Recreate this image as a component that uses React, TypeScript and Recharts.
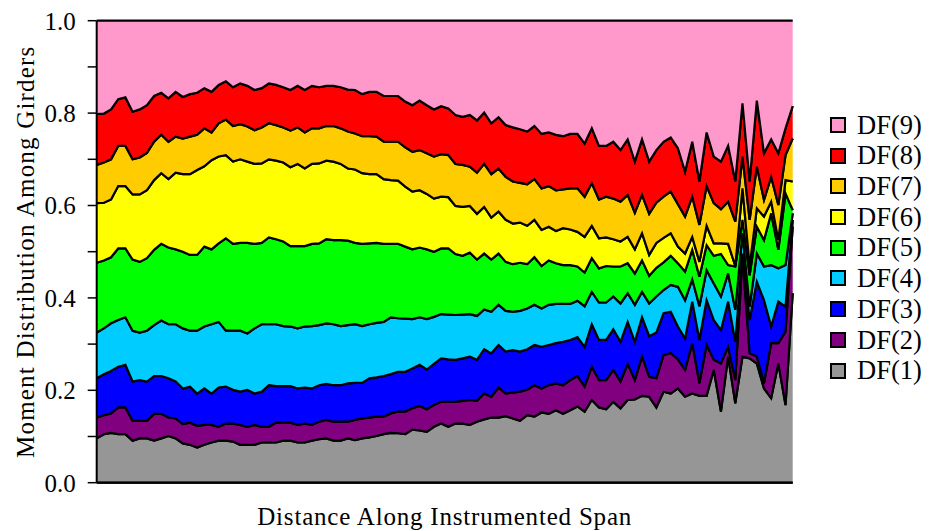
import React from 'react';
import { AreaChart, Area, XAxis, YAxis, Legend } from 'recharts';

// Upper edge of each band (cumulative share) read at each measuring station
const topDF1 = [0.096,0.105,0.108,0.105,0.105,0.091,0.096,0.096,0.091,0.096,
 0.101,0.096,0.085,0.082,0.076,0.082,0.087,0.091,0.091,0.089,
 0.082,0.082,0.082,0.087,0.087,0.087,0.091,0.091,0.087,0.087,
 0.091,0.094,0.096,0.091,0.091,0.096,0.092,0.096,0.098,0.101,
 0.105,0.108,0.107,0.105,0.115,0.113,0.110,0.121,0.128,0.121,
 0.128,0.128,0.125,0.132,0.137,0.141,0.141,0.144,0.139,0.134,
 0.146,0.143,0.152,0.149,0.157,0.149,0.157,0.165,0.154,0.179,
 0.163,0.159,0.175,0.161,0.179,0.180,0.188,0.186,0.163,0.197,
 0.193,0.204,0.186,0.193,0.188,0.188,0.244,0.154,0.273,0.172,
 0.273,0.269,0.258,0.204,0.183,0.258,0.168,0.410];
const topDF2 = [0.141,0.146,0.150,0.163,0.163,0.134,0.134,0.134,0.149,0.149,
 0.141,0.139,0.127,0.130,0.123,0.125,0.125,0.121,0.128,0.128,
 0.125,0.121,0.125,0.121,0.121,0.130,0.130,0.130,0.125,0.128,
 0.125,0.132,0.136,0.132,0.132,0.132,0.136,0.139,0.141,0.143,
 0.143,0.150,0.154,0.154,0.161,0.166,0.159,0.168,0.175,0.175,
 0.175,0.177,0.179,0.177,0.193,0.186,0.206,0.193,0.195,0.197,
 0.201,0.211,0.204,0.211,0.215,0.211,0.222,0.231,0.208,0.251,
 0.222,0.222,0.244,0.219,0.257,0.222,0.273,0.229,0.226,0.276,
 0.281,0.267,0.244,0.302,0.215,0.298,0.266,0.258,0.294,0.222,
 0.490,0.280,0.273,0.215,0.302,0.302,0.327,0.554];
const topDF3 = [0.226,0.235,0.242,0.251,0.255,0.219,0.222,0.219,0.231,0.231,
 0.226,0.219,0.204,0.208,0.193,0.204,0.193,0.206,0.208,0.201,
 0.197,0.201,0.193,0.197,0.211,0.209,0.209,0.209,0.204,0.206,
 0.204,0.211,0.214,0.211,0.211,0.215,0.216,0.216,0.226,0.228,
 0.231,0.235,0.240,0.240,0.247,0.255,0.245,0.257,0.269,0.267,
 0.266,0.269,0.273,0.266,0.289,0.280,0.298,0.284,0.287,0.284,
 0.289,0.298,0.294,0.298,0.302,0.305,0.309,0.315,0.294,0.343,
 0.309,0.309,0.332,0.305,0.348,0.305,0.358,0.317,0.325,0.367,
 0.370,0.338,0.312,0.392,0.309,0.395,0.352,0.330,0.392,0.305,
 0.496,0.352,0.435,0.395,0.338,0.392,0.381,0.569];
const topDF4 = [0.325,0.334,0.345,0.352,0.358,0.329,0.325,0.329,0.341,0.351,
 0.343,0.343,0.334,0.329,0.329,0.338,0.343,0.348,0.329,0.329,
 0.329,0.323,0.334,0.343,0.343,0.343,0.339,0.338,0.334,0.338,
 0.339,0.341,0.345,0.343,0.339,0.341,0.343,0.339,0.343,0.346,
 0.348,0.358,0.356,0.355,0.354,0.358,0.354,0.359,0.365,0.364,
 0.363,0.364,0.365,0.361,0.375,0.370,0.385,0.372,0.370,0.372,
 0.377,0.385,0.377,0.385,0.387,0.387,0.387,0.394,0.382,0.413,
 0.390,0.390,0.403,0.388,0.410,0.385,0.413,0.388,0.403,0.417,
 0.428,0.424,0.395,0.440,0.382,0.460,0.431,0.403,0.453,0.374,
 0.540,0.381,0.496,0.468,0.471,0.464,0.471,0.583];
const topDF5 = [0.476,0.481,0.488,0.507,0.507,0.483,0.478,0.486,0.504,0.517,
 0.509,0.505,0.500,0.493,0.493,0.511,0.505,0.518,0.529,0.517,
 0.519,0.519,0.517,0.519,0.531,0.527,0.522,0.512,0.512,0.512,
 0.517,0.518,0.527,0.525,0.525,0.524,0.519,0.517,0.518,0.519,
 0.517,0.517,0.517,0.511,0.505,0.509,0.505,0.500,0.507,0.507,
 0.495,0.491,0.498,0.483,0.496,0.483,0.496,0.478,0.473,0.476,
 0.473,0.488,0.469,0.481,0.475,0.471,0.471,0.468,0.455,0.486,
 0.464,0.469,0.468,0.468,0.475,0.453,0.481,0.448,0.465,0.477,
 0.491,0.475,0.457,0.504,0.446,0.514,0.491,0.495,0.471,0.468,
 0.569,0.449,0.554,0.525,0.583,0.504,0.626,0.590];
const topDF6 = [0.605,0.606,0.613,0.642,0.642,0.624,0.624,0.633,0.655,0.670,
 0.657,0.671,0.668,0.668,0.677,0.685,0.698,0.706,0.709,0.695,
 0.700,0.695,0.690,0.691,0.700,0.697,0.693,0.683,0.690,0.680,
 0.690,0.691,0.697,0.695,0.690,0.680,0.678,0.670,0.668,0.668,
 0.657,0.655,0.654,0.641,0.630,0.633,0.625,0.615,0.619,0.618,
 0.599,0.597,0.599,0.582,0.597,0.574,0.587,0.569,0.561,0.563,
 0.556,0.569,0.547,0.554,0.545,0.551,0.548,0.543,0.532,0.556,
 0.529,0.531,0.527,0.522,0.532,0.505,0.540,0.493,0.519,0.530,
 0.540,0.511,0.496,0.532,0.478,0.556,0.518,0.518,0.517,0.469,
 0.637,0.468,0.594,0.576,0.608,0.525,0.655,0.652];
const topDF7 = [0.688,0.693,0.700,0.729,0.729,0.700,0.704,0.714,0.738,0.753,
 0.738,0.749,0.745,0.749,0.753,0.767,0.758,0.778,0.786,0.772,
 0.776,0.771,0.763,0.769,0.778,0.774,0.769,0.762,0.769,0.758,
 0.767,0.767,0.772,0.772,0.767,0.760,0.756,0.750,0.750,0.749,
 0.738,0.738,0.738,0.726,0.716,0.720,0.713,0.706,0.711,0.709,
 0.690,0.688,0.684,0.671,0.690,0.668,0.680,0.662,0.652,0.649,
 0.646,0.657,0.637,0.642,0.633,0.635,0.637,0.637,0.619,0.648,
 0.613,0.619,0.615,0.608,0.623,0.584,0.623,0.582,0.606,0.619,
 0.630,0.603,0.576,0.619,0.558,0.642,0.605,0.592,0.608,0.565,
 0.706,0.569,0.684,0.612,0.662,0.601,0.709,0.745];
const topDF8 = [0.798,0.799,0.808,0.830,0.834,0.803,0.808,0.817,0.837,0.844,
 0.832,0.846,0.835,0.841,0.844,0.854,0.846,0.861,0.869,0.856,
 0.864,0.859,0.850,0.854,0.864,0.861,0.856,0.850,0.859,0.850,
 0.859,0.856,0.859,0.859,0.856,0.851,0.850,0.841,0.846,0.846,
 0.837,0.837,0.837,0.825,0.817,0.827,0.817,0.808,0.815,0.810,
 0.796,0.792,0.796,0.784,0.801,0.778,0.791,0.774,0.769,0.765,
 0.760,0.772,0.755,0.758,0.753,0.750,0.755,0.755,0.734,0.767,
 0.729,0.729,0.738,0.720,0.743,0.695,0.743,0.695,0.720,0.738,
 0.747,0.724,0.673,0.738,0.652,0.758,0.706,0.695,0.729,0.652,
 0.821,0.652,0.827,0.713,0.743,0.713,0.767,0.815];

const seriesNames = ['DF(1)', 'DF(2)', 'DF(3)', 'DF(4)', 'DF(5)', 'DF(6)', 'DF(7)', 'DF(8)', 'DF(9)'];
const seriesColors = ['#969696', '#800080', '#0000FF', '#00CCFF', '#00FF00', '#FFFF00', '#FFCC00', '#FF0000', '#FF99CC'];
const yTicks = [0, 0.1, 0.2, 0.3, 0.4, 0.5, 0.6, 0.7, 0.8, 0.9, 1.0];

const tops = [topDF1, topDF2, topDF3, topDF4, topDF5, topDF6, topDF7, topDF8];
const stationCount = topDF1.length;

const data = topDF1.map((_, i) => {
  const row: Record<string, any> = { station: i };
  let low = 0;
  for (let k = 0; k < 9; k++) {
    const high = k < 8 ? tops[k][i] : 1;
    row['df' + (k + 1)] = [low, high];
    low = high;
  }
  return row;
});

const FONT = '"Liberation Serif", "Times New Roman", serif';

const renderLegend = () => (
  <div style={{ fontFamily: FONT, fontSize: 26.5, color: '#000' }}>
    {seriesNames.map((n, i) => ({ n, c: seriesColors[i] })).reverse().map((s) => (
      <div key={s.n} style={{ display: 'flex', alignItems: 'center', height: 30.7, lineHeight: '30.7px', whiteSpace: 'nowrap' }}>
        <span style={{ display: 'inline-block', flex: 'none', width: 16, height: 16, boxSizing: 'border-box', border: '2px solid #000', background: s.c, marginRight: 11 }} />
        <span>{s.n}</span>
      </div>
    ))}
  </div>
);

export default function App() {
  return (
    <AreaChart
      width={921}
      height={523}
      data={data}
      margin={{ top: 12.7, right: 136.3, bottom: 0.3, left: 0.7 }}
    >
      <XAxis
        dataKey="station"
        type="number"
        domain={[0, stationCount - 1]}
        tick={false}
        tickLine={false}
        axisLine={{ stroke: '#000', strokeWidth: 2 }}
        height={48}
        label={{ value: 'Distance Along Instrumented Span', position: 'insideBottom', offset: 6, style: { fontFamily: FONT, fontSize: 25, fill: '#000', letterSpacing: 0.8 } }}
      />
      <XAxis
        xAxisId="top"
        orientation="top"
        dataKey="station"
        type="number"
        domain={[0, stationCount - 1]}
        tick={false}
        tickLine={false}
        height={0}
        axisLine={{ stroke: '#000', strokeWidth: 2 }}
      />
      <YAxis
        type="number"
        domain={[0, 1]}
        ticks={yTicks}
        interval={0}
        width={88}
        tickSize={9}
        tickMargin={12}
        tickLine={{ stroke: '#000', strokeWidth: 1.5 }}
        axisLine={{ stroke: '#000', strokeWidth: 2 }}
        tickFormatter={(v: number) => (Math.round(v * 10) % 2 === 0 ? v.toFixed(1) : '')}
        tick={{ fontFamily: FONT, fontSize: 25, fill: '#000' }}
        label={{ value: 'Moment Distribution Among Girders', angle: -90, position: 'insideLeft', offset: 16, style: { fontFamily: FONT, fontSize: 25, fill: '#000', textAnchor: 'middle', letterSpacing: 1.2 } }}
      />
      <YAxis
        yAxisId="right"
        orientation="right"
        type="number"
        domain={[0, 1]}
        tick={false}
        tickLine={false}
        width={0}
        axisLine={{ stroke: '#000', strokeWidth: 2 }}
      />
      {seriesNames.map((n, k) => (
        <Area
          key={n}
          type="linear"
          dataKey={'df' + (k + 1)}
          name={n}
          fill={seriesColors[k]}
          fillOpacity={1}
          stroke="#000"
          strokeWidth={2.2}
          dot={false}
          activeDot={false}
          isAnimationActive={false}
        />
      ))}
      <Legend
        layout="vertical"
        align="center"
        verticalAlign="middle"
        wrapperStyle={{ left: 822, top: 101.7, width: 100 }}
        content={renderLegend}
      />
    </AreaChart>
  );
}
